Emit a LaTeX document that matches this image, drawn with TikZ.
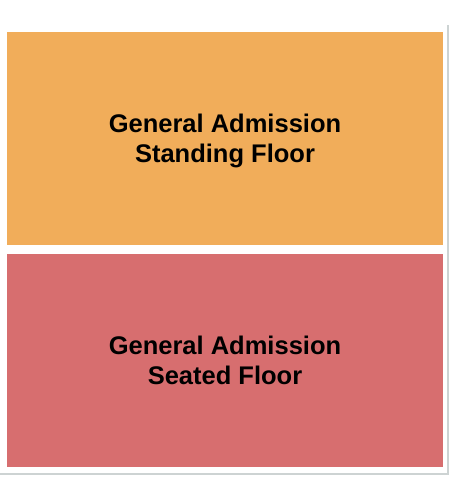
\documentclass[tikz,border=0pt]{standalone}
\usepackage{fontspec}
\setmainfont{Liberation Sans}
\definecolor{standc}{HTML}{F1AD5A}
\definecolor{seatc}{HTML}{D76E6F}
\definecolor{framec}{HTML}{CDD3D3}
\begin{document}
\begin{tikzpicture}[x=1pt,y=-1pt,
  area/.style={draw=none},
  lbl/.style={align=center,font=\fontsize{25.5}{30.5}\selectfont\bfseries,text=black}]
\useasboundingbox (0,0) rectangle (450,500);
\fill[white] (0,0) rectangle (450,500);
\draw[framec,line width=1.2pt] (0,474) -- (448,474) -- (448,25);
\fill[standc] (7,32) rectangle (443,245);
\fill[seatc] (7,254) rectangle (443,467);
\node[lbl] (stand) at (225,141) {General Admission\\Standing Floor};
\node[lbl] (seat) at (225,360.5) {General Admission\\Seated Floor};
\end{tikzpicture}
\end{document}
